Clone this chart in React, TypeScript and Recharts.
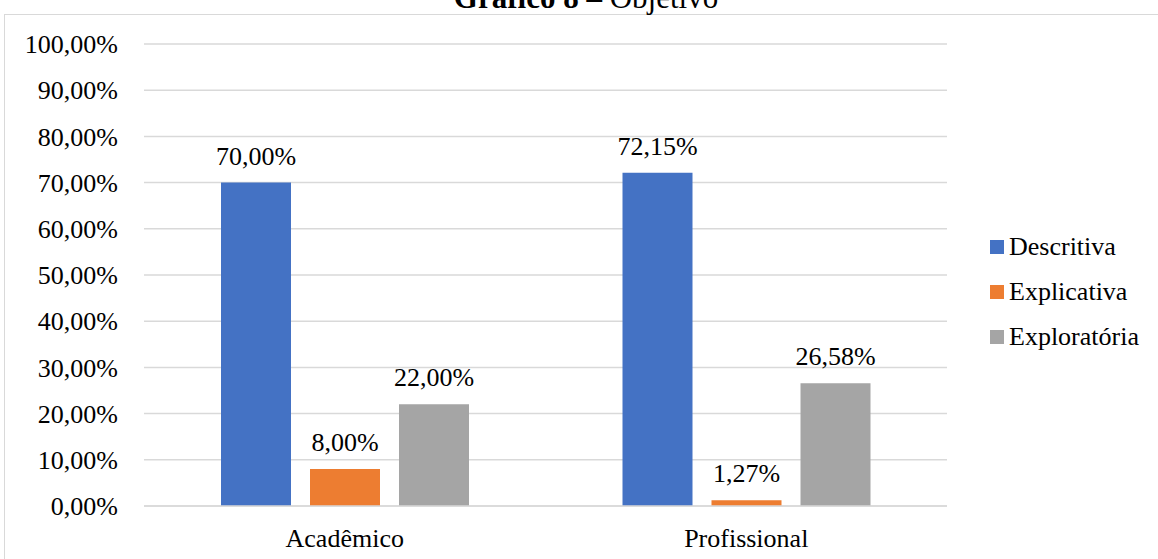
import React from 'react';
import { BarChart, Bar, XAxis, YAxis, CartesianGrid, Legend, LabelList } from 'recharts';

const categories = ['Acadêmico', 'Profissional'];
const descritiva = [70.0, 72.15];
const explicativa = [8.0, 1.27];
const exploratoria = [22.0, 26.58];
const yTicks = [0, 10, 20, 30, 40, 50, 60, 70, 80, 90, 100];

const data = categories.map((name, i) => ({
  name,
  Descritiva: descritiva[i],
  Explicativa: explicativa[i],
  Exploratória: exploratoria[i],
}));

const FONT = '"Liberation Serif", "Times New Roman", serif';
const FS = 26;
const pct = (v: number) => `${v.toFixed(2).replace('.', ',')}%`;
const labelStyle = { fill: '#000', fontSize: FS, fontFamily: FONT };

function LegendBox({ payload }: any) {
  return (
    <div style={{ fontFamily: FONT, fontSize: FS, color: '#000' }}>
      {(payload || []).map((entry: any) => (
        <div key={entry.value} style={{ display: 'flex', alignItems: 'center', height: 45 }}>
          <span style={{ width: 14, height: 14, background: entry.color, marginRight: 5, display: 'inline-block' }} />
          <span>{entry.value}</span>
        </div>
      ))}
    </div>
  );
}

export default function App() {
  return (
    <div style={{ position: 'absolute', left: 0, top: 0, width: 1158, height: 559, background: '#fff', overflow: 'hidden' }}>
      <div
        style={{
          position: 'absolute',
          left: 4,
          top: 14,
          width: 1200,
          height: 600,
          border: '1.5px solid #d9d9d9',
        }}
      />
      <div
        style={{
          position: 'absolute',
          left: 0,
          width: 1172,
          top: -18,
          textAlign: 'center',
          fontFamily: FONT,
          fontSize: 31,
          lineHeight: '31px',
          color: '#000',
          whiteSpace: 'nowrap',
        }}
      >
        <b>Gráfico 8 –</b> Objetivo
      </div>
      <div style={{ position: 'absolute', left: 0, top: 0 }}>
        <BarChart
          width={1158}
          height={559}
          data={data}
          margin={{ top: 44, right: 43, bottom: 23, left: 0 }}
          barSize={70}
          barGap={19}
        >
          <CartesianGrid vertical={false} stroke="#d9d9d9" strokeWidth={1.5} />
          <XAxis
            dataKey="name"
            height={30}
            axisLine={{ stroke: '#d9d9d9', strokeWidth: 1.5 }}
            tickLine={false}
            tickSize={0}
            tickMargin={23}
            tick={{ fill: '#000', fontSize: FS, fontFamily: FONT }}
          />
          <YAxis
            width={144}
            domain={[0, 100]}
            ticks={yTicks}
            interval={0}
            axisLine={false}
            tickLine={false}
            tickSize={0}
            tickMargin={26}
            tickFormatter={pct}
            tick={{ fill: '#000', fontSize: FS, fontFamily: FONT }}
          />
          <Legend
            layout="vertical"
            align="right"
            verticalAlign="middle"
            content={<LegendBox />}
            wrapperStyle={{ left: 990, top: 224, width: 168 }}
          />
          <Bar dataKey="Descritiva" fill="#4472C4" isAnimationActive={false}>
            <LabelList dataKey="Descritiva" position="top" offset={18} formatter={(v: any) => pct(Number(v))} style={labelStyle} />
          </Bar>
          <Bar dataKey="Explicativa" fill="#ED7D31" isAnimationActive={false}>
            <LabelList dataKey="Explicativa" position="top" offset={18} formatter={(v: any) => pct(Number(v))} style={labelStyle} />
          </Bar>
          <Bar dataKey="Exploratória" fill="#A5A5A5" isAnimationActive={false}>
            <LabelList dataKey="Exploratória" position="top" offset={18} formatter={(v: any) => pct(Number(v))} style={labelStyle} />
          </Bar>
        </BarChart>
      </div>
    </div>
  );
}
